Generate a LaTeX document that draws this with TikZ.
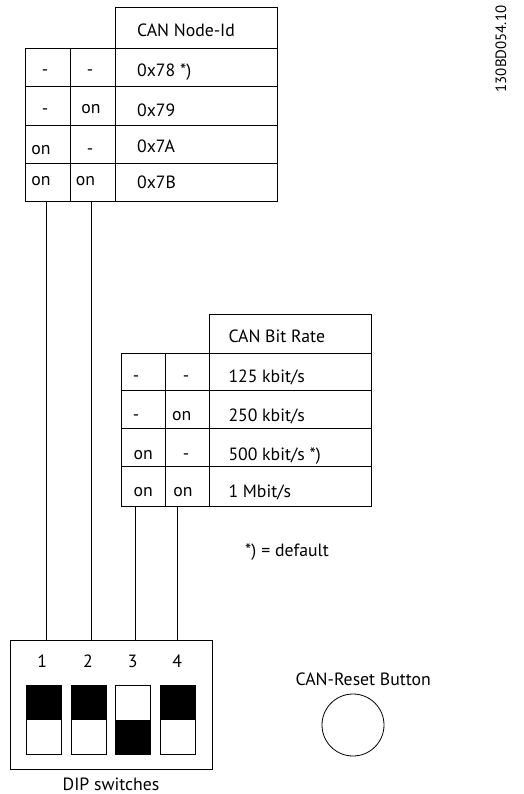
\documentclass[tikz,border=0pt]{standalone}
\usepackage{fontspec}
\setmainfont{PT Sans}
\begin{document}
\begin{tikzpicture}[x=1bp,y=-1bp,
  every node/.style={font=\fontsize{17.8}{20}\selectfont,inner sep=0pt},
  grid/.style={line width=0.8bp},
  cell/.style={anchor=base},
  val/.style={anchor=base west},
  switchbox/.style={draw,line width=0.8bp,minimum width=35bp,minimum height=68.6bp},
  switchup/.style={switchbox,path picture={\fill (path picture bounding box.north west) rectangle (path picture bounding box.east);}},
  switchdown/.style={switchbox,path picture={\fill (path picture bounding box.south west) rectangle (path picture bounding box.east);}}]
  \useasboundingbox (0,0) rectangle (524,794);
  % CAN Node-Id table
  \draw[grid] (115.3,7.3) rectangle (277.7,201.3);
  \draw[grid] (25.7,48.3) rectangle (277.7,201.3);
  \draw[grid] (70.7,48.3) -- (70.7,201.3);
  \foreach \y in {86,125.7,163.3}{
    \draw[grid] (25.7,\y) -- (277.7,\y); % row lines
  }
  \node[val] (nodeid) at (137,37) {CAN Node-Id};
  \node[val] (id78) at (137,77) {0x78 *)};
  \node[val] (id79) at (137,116) {0x79};
  \node[val] (id7a) at (137,152.5) {0x7A};
  \node[val] (id7b) at (137,188.5) {0x7B};
  \node[cell] (a11) at (45,76) {-};
    \node[cell] (a12) at (90,76) {-};
  \node[cell] (a21) at (45,114.5) {-};
    \node[cell] (a22) at (91,113) {on};
  \node[cell] (a31) at (41,154.5) {on};
    \node[cell] (a32) at (90,154.5) {-};
  \node[cell] (a41) at (41,185) {on};
    \node[cell] (a42) at (85.5,185) {on};
  \coordinate (top1) at (46,201.3);
  \coordinate (top2) at (91.3,201.3);
  % CAN Bit Rate table
  \draw[grid] (209.3,314) rectangle (371.7,506.7);
  \draw[grid] (121,353.3) rectangle (371.7,506.7);
  \draw[grid] (165.3,353.3) -- (165.3,506.7);
  \foreach \y in {390.7,428.3,466.7}{
    \draw[grid] (121,\y) -- (371.7,\y); % row lines
  }
  \node[val] (bitrate) at (228.3,342) {CAN Bit Rate};
  \node[val] (r125) at (228.3,382.5) {125 kbit/s};
  \node[val] (r250) at (228.3,421.5) {250 kbit/s};
  \node[val] (r500) at (228.3,460) {500 kbit/s *)};
  \node[val] (r1m) at (228.3,497.5) {1 Mbit/s};
  \node[cell] (b11) at (136,381) {-};
    \node[cell] (b12) at (186,381) {-};
  \node[cell] (b21) at (136,420.5) {-};
    \node[cell] (b22) at (181.7,420.5) {on};
  \node[cell] (b31) at (143.3,459.5) {on};
    \node[cell] (b32) at (186,459.5) {-};
  \node[cell] (b41) at (143.3,496.5) {on};
    \node[cell] (b42) at (183,496.5) {on};
  \coordinate (top3) at (135,506.7);
  \coordinate (top4) at (177.7,506.7);
  \node[val] (default) at (245,556.5) {*)\hspace{5bp}= default};
  % DIP switches
  \node[draw,line width=0.8bp,minimum width=202.3bp,minimum height=128.3bp] (dip) at (111.15,704.85) {};
  \foreach \i/\x in {1/42.3,2/88,3/132.7,4/177.3}{
    \node[cell] (num\i) at (\x,667.7) {\i};
  }
  \node[switchup] (sw1) at (44.2,720) {};
  \node[switchup] (sw2) at (88.5,720) {};
  \node[switchdown] (sw3) at (133.3,720) {};
  \node[switchup] (sw4) at (178,720) {};
  \node[anchor=base] (diplabel) at (111,790.5) {DIP switches};
  \foreach \i in {1,2,3,4}{
    \draw[grid] (top\i) -- (top\i |- dip.north); % wire to switch
  }
  % reset button
  \node[anchor=base] (resetlabel) at (363.3,685) {CAN-Reset Button};
  \node[draw,circle,line width=0.8bp,minimum size=62bp] (reset) at (353,725) {};
  \node[rotate=90,font=\fontsize{15}{18}\selectfont] (docid) at (501,49) {130BD054.10};
\end{tikzpicture}
\end{document}
